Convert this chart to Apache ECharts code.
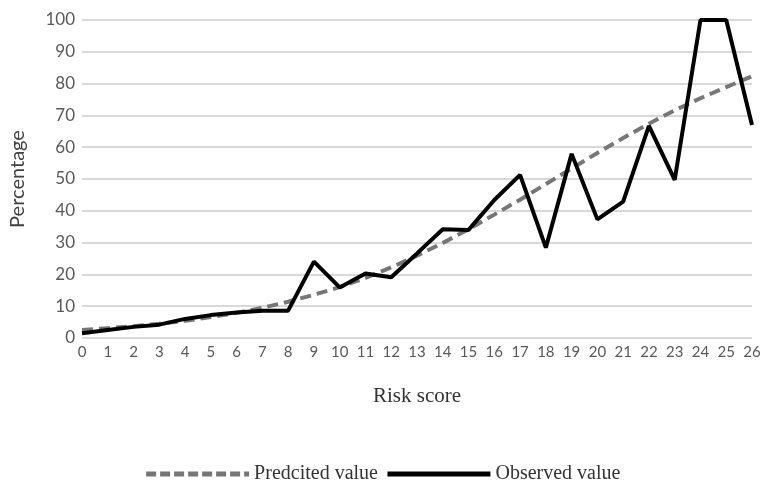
<!DOCTYPE html>
<html><head><meta charset="utf-8">
<script src="https://cdn.jsdelivr.net/npm/echarts@6/dist/echarts.min.js"></script>
<style>html,body{margin:0;padding:0;background:#fff}#c{width:764px;height:481px}</style>
</head><body><div id="c"></div>
<script>
const riskScores = ['0','1','2','3','4','5','6','7','8','9','10','11','12','13','14','15','16','17','18','19','20','21','22','23','24','25','26'];
const predicted = [2.5,3.1,3.7,4.5,5.4,6.6,7.9,9.5,11.4,13.6,16.0,18.9,22.2,25.9,29.9,34.2,38.8,43.5,48.4,53.3,58.2,62.9,67.4,71.6,75.4,78.9,82.3];
const observed = [1.5,2.5,3.5,4.2,6.0,7.2,8.0,8.6,8.6,24.0,15.9,20.3,19.1,26.6,34.2,34.0,43.4,51.3,28.4,57.9,37.3,42.9,66.7,49.7,100,100,67];
const yTicks = {min:0, max:100, interval:10};

const chart = echarts.init(document.getElementById('c'), null, {renderer:'canvas'});
chart.setOption({
  animation:false,
  grid:{left:80, right:12, top:20, bottom:143, containLabel:false},
  legend:{
    top:459, left:'center',
    itemWidth:103, itemHeight:20, itemGap:7,
    textStyle:{fontFamily:'Liberation Serif', fontSize:20, color:'#333'},
    itemStyle:{opacity:0},
    data:[
      {name:'Predcited value', itemStyle:{opacity:0}, lineStyle:{width:5, type:[10,4], color:'#767676'}},
      {name:'Observed value', itemStyle:{opacity:0}, lineStyle:{width:5, color:'#000'}}
    ]
  },
  xAxis:{
    type:'category', data:riskScores, boundaryGap:false,
    name:'Risk score', nameLocation:'middle', nameGap:48,
    nameTextStyle:{fontFamily:'Liberation Serif', fontSize:21, color:'#333'},
    axisLine:{show:false}, axisTick:{show:false},
    axisLabel:{fontFamily:'Lato', fontSize:15, color:'#595959', margin:7}
  },
  yAxis:{
    type:'value', min:yTicks.min, max:yTicks.max, interval:yTicks.interval,
    name:'Percentage', nameLocation:'middle', nameGap:54,
    nameTextStyle:{fontFamily:'Lato', fontSize:20, color:'#404040'},
    axisLine:{show:false}, axisTick:{show:false},
    axisLabel:{fontFamily:'Lato', fontSize:17, color:'#595959', margin:7},
    splitLine:{lineStyle:{color:'#d9d9d9', width:2}}
  },
  series:[
    {name:'Predcited value', type:'line', data:predicted, symbol:'none', showSymbol:false,
     lineStyle:{color:'#767676', width:4, type:[11,6]}, itemStyle:{color:'#767676'}, z:3},
    {name:'Observed value', type:'line', data:observed, symbol:'none', showSymbol:false,
     lineStyle:{color:'#000', width:4}, itemStyle:{color:'#000'}, z:4}
  ]
});
</script></body></html>
